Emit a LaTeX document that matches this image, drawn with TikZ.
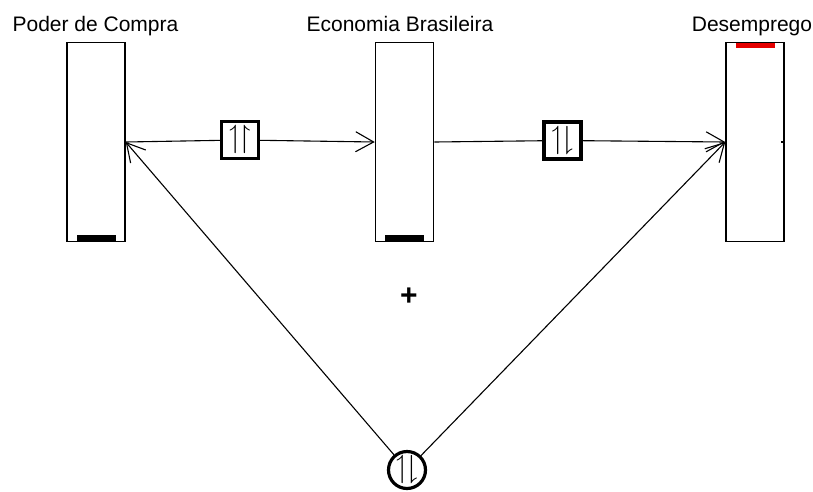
\documentclass[tikz,border=0pt]{standalone}
\usepackage{fontspec}
\usepackage{amssymb}
\setmainfont{Liberation Sans}
\usetikzlibrary{arrows.meta,positioning}

\begin{document}
\begin{tikzpicture}[x=1pt, y=-1pt,
  level/.style={draw, line width=1.5pt, minimum width=58pt, minimum height=199pt, inner sep=0pt},
  lbl/.style={anchor=base, font=\fontsize{21}{24}\selectfont, inner sep=0pt},
  bar/.style={fill=#1, minimum width=39pt, minimum height=6pt, inner sep=0pt},
  rel/.style={draw, line width=3.2pt, minimum size=37pt, inner sep=0pt,
              font=\fontsize{32}{32}\selectfont},
  link/.style={line width=1.1pt},
  arr/.style={link, -{Straight Barb[length=18pt, width=20pt, line width=1.1pt]}}]
  \useasboundingbox (0,0) rectangle (813,491);
  % the three levels
  \node[level] (poder) at (96,142) {};
  \node[level, right=249pt of poder] (econ) {};
  \node[level, right=291pt of econ] (desemp) {};
  \node[lbl] (lpoder) at (95.5,31) {Poder de Compra};
  \node[lbl] (lecon) at (400,31) {Economia Brasileira};
  \node[lbl] (ldesemp) at (752,31) {Desemprego};
  % level marks
  \node[bar=black, anchor=south] (mpoder) at ([yshift=0.75pt]poder.south) {};
  \node[bar=black, anchor=south] (mecon) at ([yshift=0.75pt]econ.south) {};
  \node[bar=red!90!black, anchor=north, minimum height=5pt] (mdesemp) at ([yshift=-0.75pt]desemp.north) {};
  % relations
  \node[rel] (r1) at (240,140) {$\upharpoonleft\!\upharpoonright$};
  \node[rel] (r2) at (562.5,140.5) {$\upharpoonleft\!\downharpoonright$};
  \node[rel, circle] (r3) at (407,470) {$\upharpoonleft\!\downharpoonright$};
  \node[font=\bfseries\fontsize{30}{30}\selectfont] (plus) at (409,297) {+};
  \draw[link] (poder.east) -- (r1);
  \draw[arr] (r1) -- (econ.west);
  \draw[link] (econ.east) -- (r2);
  \draw[arr] (r2) -- (desemp.west);
  \draw[arr] (r3) -- (poder.east);
  \draw[arr] (r3) -- (desemp.west);
  \draw[link] (desemp.east) -- ++(-4,0);
\end{tikzpicture}
\end{document}
